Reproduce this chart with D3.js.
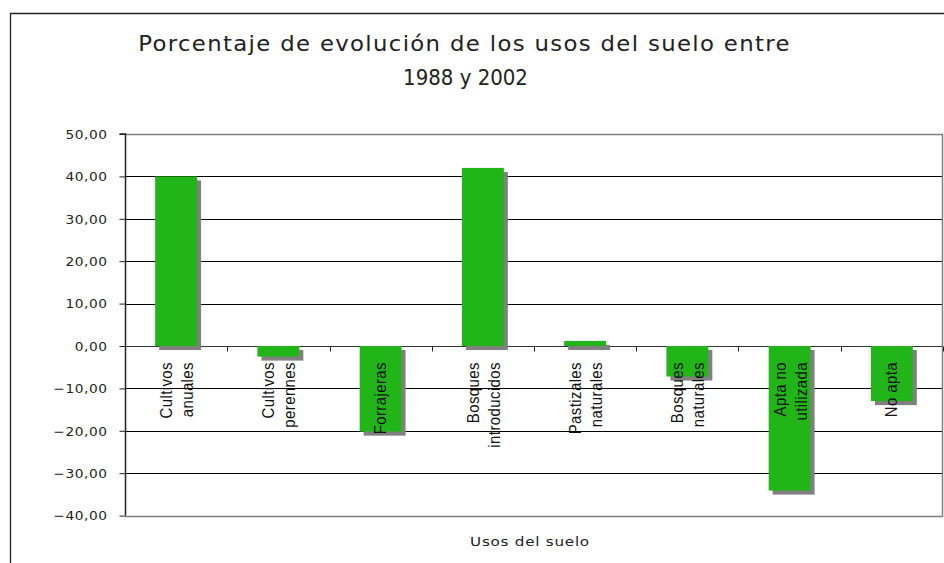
<!DOCTYPE html>
<html>
<head>
<meta charset="utf-8">
<script src="https://cdn.jsdelivr.net/npm/d3@7"></script>
<style>
  html, body { margin: 0; padding: 0; background: #fff; }
  svg { display: block; }
</style>
</head>
<body>
<script>
// ---- data ----
const categories = ["Cultivos anuales", "Cultivos perennes", "Forrajeras", "Bosques introducidos",
                    "Pastizales naturales", "Bosques naturales", "Apta no utilizada", "No apta"];
const labelLines = [["Cultivos", "anuales"], ["Cultivos", "perennes"], ["Forrajeras"], ["Bosques", "introducidos"],
                    ["Pastizales", "naturales"], ["Bosques", "naturales"], ["Apta no", "utilizada"], ["No apta"]];
const values = [40.0, -2.5, -20.2, 42.0, 1.2, -7.2, -34.1, -13.0];
const yTicks = [50, 40, 30, 20, 10, 0, -10, -20, -30, -40];
const titleLines = ["Porcentaje de evolución de los usos del suelo entre", "1988 y 2002"];
const xTitle = "Usos del suelo";

(function () {
const W = 944, H = 563;
const HS = 1.15; // horizontal stretch of the original rendering
const svg = d3.select("body").append("svg").attr("width", W).attr("height", H);

// outer frame
svg.append("path")
  .attr("d", `M10.5,${H} L10.5,13.5 L${W},13.5`)
  .attr("fill", "none").attr("stroke", "#222").attr("stroke-width", 1.3);

const pLeft = 125, pRight = 943, pTop = 134, pBottom = 515.6;
const x = d3.scaleBand().domain(categories).range([pLeft, pRight]).paddingInner(0.59).paddingOuter(0.295);
const y = d3.scaleLinear().domain([-40, 50]).range([pBottom, pTop]);

// gridlines (black)
svg.append("g").selectAll("line").data(yTicks.filter(t => t !== 50 && t !== -40)).join("line")
  .attr("x1", pLeft).attr("x2", pRight)
  .attr("y1", d => Math.round(y(d)) + 0.5).attr("y2", d => Math.round(y(d)) + 0.5)
  .attr("stroke", d => d === 0 ? "#333" : "#000").attr("stroke-width", 1);

// plot area border (grey): top, right, bottom
svg.append("path")
  .attr("d", `M${pLeft},${Math.round(pTop)+0.5} L${pRight-0.5},${Math.round(pTop)+0.5} L${pRight-0.5},${Math.round(pBottom)+0.5} L${pLeft},${Math.round(pBottom)+0.5}`)
  .attr("fill", "none").attr("stroke", "#808080").attr("stroke-width", 1.5);

// shadows + bars
const bars = svg.append("g");
bars.selectAll("rect.shadow").data(values).join("rect").attr("class", "shadow")
  .attr("x", (d, i) => x(categories[i]) + 4)
  .attr("y", d => Math.min(y(d), y(0)) + 4)
  .attr("width", x.bandwidth())
  .attr("height", d => Math.abs(y(d) - y(0)))
  .attr("fill", "#808080");
bars.selectAll("rect.bar").data(values).join("rect").attr("class", "bar")
  .attr("x", (d, i) => x(categories[i]))
  .attr("y", d => Math.min(y(d), y(0)))
  .attr("width", x.bandwidth())
  .attr("height", d => Math.abs(y(d) - y(0)))
  .attr("fill", "#21b519");

// y axis
const yAxis = d3.axisLeft(y).tickValues(yTicks).tickSize(6).tickPadding(12)
  .tickFormat(d => d3.format(".2f")(d).replace(".", ","));
const ga = svg.append("g").attr("transform", `translate(${pLeft + 0.5},0)`).call(yAxis);
ga.select(".domain").attr("stroke", "#222").attr("stroke-width", 1.5).attr("d", `M-6,${pTop}H0V${pBottom}`);
ga.selectAll(".tick line").attr("stroke", "#222");
ga.selectAll(".tick text")
  .attr("font-family", "DejaVu Sans, Verdana, sans-serif").attr("font-size", 12.5)
  .attr("letter-spacing", "0.5px")
  .attr("fill", "#222")
  .attr("x", 0).attr("dy", "0.34em")
  .attr("transform", `translate(-18,0) scale(1.1,1)`);

// category tick marks at band boundaries on the zero line
const step = x.step();
const y0 = Math.round(y(0)) + 0.5;
svg.append("g").selectAll("line").data(categories).join("line")
  .attr("x1", d => Math.round(x(d) + x.bandwidth() / 2 + step / 2) + 0.5)
  .attr("x2", d => Math.round(x(d) + x.bandwidth() / 2 + step / 2) + 0.5)
  .attr("y1", y0).attr("y2", y0 + 5)
  .attr("stroke", "#222").attr("stroke-width", 1);

// category labels (rotated)
const lab = svg.append("g");
categories.forEach((c, i) => {
  const cx = x(c) + x.bandwidth() / 2;
  const lines = labelLines[i];
  const offs = lines.length === 1 ? [5] : [-4, 17];
  lines.forEach((t, j) => {
    lab.append("text")
      .attr("transform", `translate(${cx + offs[j]},362) scale(${HS},1) rotate(-90)`)
      .attr("text-anchor", "end")
      .attr("font-family", "Liberation Sans, Arial, sans-serif")
      .attr("font-size", 15).attr("letter-spacing", "0.4px").attr("fill", "#111")
      .text(t);
  });
});

// helper: horizontally fit a centred text to a target width
function fitText(sel, cx, cy, width) {
  const n = sel.node().getComputedTextLength();
  sel.attr("x", 0).attr("y", 0).attr("text-anchor", "middle")
    .attr("transform", `translate(${cx},${cy}) scale(${width / n},1)`);
}

// title
const tg = svg.append("g").attr("font-family", "DejaVu Sans, Verdana, sans-serif").attr("fill", "#222");
fitText(tg.append("text").attr("font-size", 20.5).attr("letter-spacing", "1.2px").text(titleLines[0]), 464.5, 50.5, 653);
fitText(tg.append("text").attr("font-size", 20.5).text(titleLines[1]), 465.5, 84.5, 125);

// x axis title
fitText(svg.append("text").attr("font-family", "DejaVu Sans, Verdana, sans-serif").attr("font-size", 12.5)
  .attr("letter-spacing", "0.6px").attr("fill", "#222").text(xTitle), 530, 546, 120);
})();
</script>
</body>
</html>
